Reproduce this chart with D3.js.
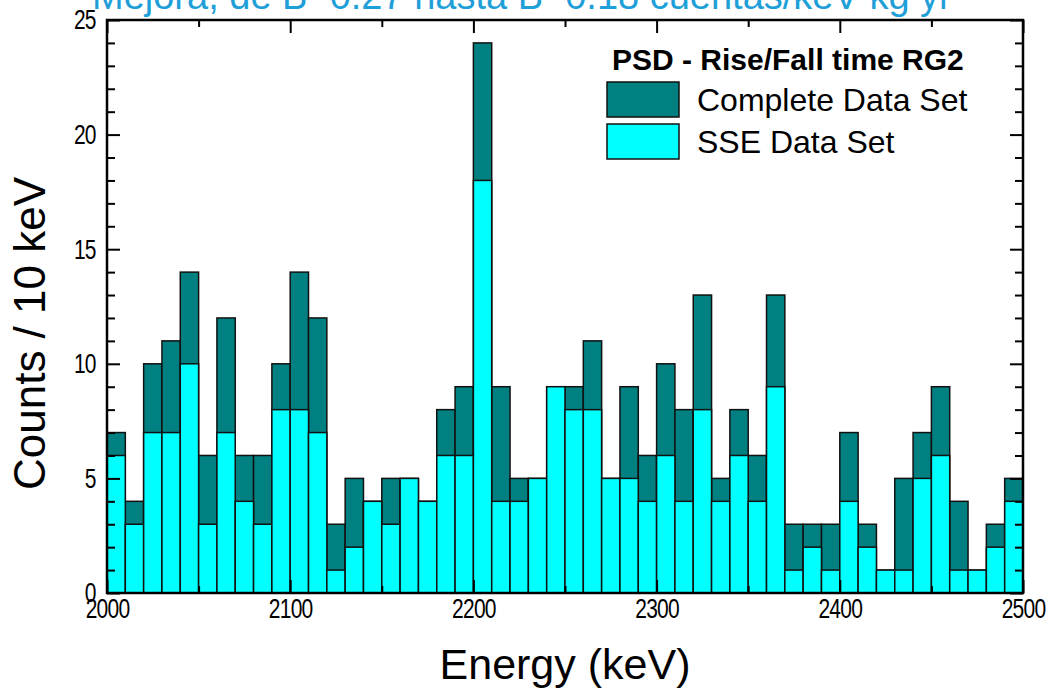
<!DOCTYPE html>
<html><head><meta charset="utf-8">
<script src="https://cdn.jsdelivr.net/npm/d3@7"></script>
<style>
body{margin:0;background:#fff;}
svg{display:block;font-family:"Liberation Sans",Arial,Helvetica,sans-serif;}
</style>
</head><body>
<svg id="chart" width="1053" height="691"></svg>
<script>
// ---- data ----
const binStarts = [2000,2010,2020,2030,2040,2050,2060,2070,2080,2090,
                   2100,2110,2120,2130,2140,2150,2160,2170,2180,2190,
                   2200,2210,2220,2230,2240,2250,2260,2270,2280,2290,
                   2300,2310,2320,2330,2340,2350,2360,2370,2380,2390,
                   2400,2410,2420,2430,2440,2450,2460,2470,2480,2490];
const binWidth = 10;
const completeCounts = [7,4,10,11,14,6,12,6,6,10,
                        14,12,3,5,4,5,5,4,8,9,
                        24,9,5,5,9,9,11,5,9,6,
                        10,8,13,5,8,6,13,3,3,3,
                        7,3,1,5,7,9,4,1,3,5];
const sseCounts = [6,3,7,7,10,3,7,4,3,8,
                   8,7,1,2,4,3,5,4,6,6,
                   18,4,4,5,9,8,8,5,5,4,
                   6,4,8,4,6,4,9,1,2,1,
                   4,2,1,1,5,6,1,1,2,4];
const xMajorTicks = [2000,2100,2200,2300,2400,2500];
const xTickLabels = ["2000","2100","2200","2300","2400","2500"];
const xMinorTicks = [2050,2150,2250,2350,2450];
const yMajorTicks = [0,5,10,15,20,25];
const yTickLabels = ["0","5","10","15","20","25"];
const yMinorTicks = [1,2,3,4,6,7,8,9,11,12,13,14,16,17,18,19,21,22,23,24];
const seriesNames = ["Complete Data Set","SSE Data Set"];
const seriesColors = ["#008080","#00ffff"];
const legendTitle = "PSD - Rise/Fall time RG2";
const topTitle = "Mejora, de B~0.27 hasta B~0.18 cuentas/keV kg yr";
const xTitle = "Energy (keV)";
const yTitle = "Counts / 10 keV";

// ---- layout ----
const L = 107, R = 1023, T = 20, B = 593;
const svg = d3.select("#chart");
const x = d3.scaleLinear().domain([2000,2500]).range([L,R]);
const y = d3.scaleLinear().domain([0,25]).range([B,T]);

// top title (clipped by the top edge)
svg.append("text").attr("x",92).attr("y",9)
  .attr("font-size",38).attr("fill","#1f9fd8").text(topTitle);

// bars
const series = [completeCounts, sseCounts];
series.forEach((vals,si)=>{
  svg.append("g").selectAll("rect").data(binStarts).join("rect")
    .attr("x",d=>x(d)).attr("width",d=>x(d+binWidth)-x(d))
    .attr("y",(d,i)=>y(vals[i])).attr("height",(d,i)=>y(0)-y(vals[i]))
    .attr("fill",seriesColors[si]).attr("stroke","#111").attr("stroke-width",1.5);
});

function styleAxis(g){
  g.select(".domain").remove();
  g.selectAll(".tick line").attr("stroke","#000").attr("stroke-width",2);
  g.selectAll(".tick text").attr("fill","#000").attr("font-size",28)
   .attr("letter-spacing","-1px").attr("transform","scale(0.75,1)")
   .attr("font-family","'Liberation Sans',Arial,sans-serif");
}
// bottom
svg.append("g").attr("transform",`translate(0,${B})`)
  .call(d3.axisBottom(x).tickValues(xMinorTicks).tickSize(-7).tickFormat(""))
  .call(styleAxis);
svg.append("g").attr("transform",`translate(0,${B})`)
  .call(d3.axisBottom(x).tickValues(xMajorTicks).tickSize(-13).tickPadding(5)
        .tickFormat((d,i)=>xTickLabels[i]))
  .call(styleAxis);
// top
svg.append("g").attr("transform",`translate(0,${T})`)
  .call(d3.axisTop(x).tickValues(xMinorTicks).tickSize(-7).tickFormat(""))
  .call(styleAxis);
svg.append("g").attr("transform",`translate(0,${T})`)
  .call(d3.axisTop(x).tickValues(xMajorTicks).tickSize(-13).tickFormat(""))
  .call(styleAxis);
// left
svg.append("g").attr("transform",`translate(${L},0)`)
  .call(d3.axisLeft(y).tickValues(yMinorTicks).tickSize(-8).tickFormat(""))
  .call(styleAxis);
svg.append("g").attr("transform",`translate(${L},0)`)
  .call(d3.axisLeft(y).tickValues(yMajorTicks).tickSize(-13).tickPadding(15)
        .tickFormat((d,i)=>yTickLabels[i]))
  .call(styleAxis);
// right
svg.append("g").attr("transform",`translate(${R},0)`)
  .call(d3.axisRight(y).tickValues(yMinorTicks).tickSize(-8).tickFormat(""))
  .call(styleAxis);
svg.append("g").attr("transform",`translate(${R},0)`)
  .call(d3.axisRight(y).tickValues(yMajorTicks).tickSize(-13).tickFormat(""))
  .call(styleAxis);

// frame
svg.append("rect").attr("x",L).attr("y",T).attr("width",R-L).attr("height",B-T)
  .attr("fill","none").attr("stroke","#000").attr("stroke-width",2.5);

// axis titles
svg.append("text").attr("x",(L+R)/2).attr("y",679).attr("text-anchor","middle")
  .attr("font-size",43).attr("fill","#000").text(xTitle);
svg.append("text").attr("transform",`translate(45,${(T+B)/2+27}) rotate(-90)`)
  .attr("text-anchor","middle").attr("font-size",44).attr("fill","#000").text(yTitle);

// legend
const lg = svg.append("g");
lg.append("text").attr("x",612).attr("y",70).attr("font-size",30)
  .attr("font-weight","bold").attr("fill","#000").text(legendTitle);
seriesNames.forEach((n,i)=>{
  lg.append("rect").attr("x",607).attr("y",82+i*42).attr("width",72).attr("height",35)
    .attr("fill",seriesColors[i]).attr("stroke","#111").attr("stroke-width",1.5);
  lg.append("text").attr("x",697).attr("y",111+i*42).attr("font-size",32)
    .attr("fill","#000").text(n);
});
</script>
</body></html>
